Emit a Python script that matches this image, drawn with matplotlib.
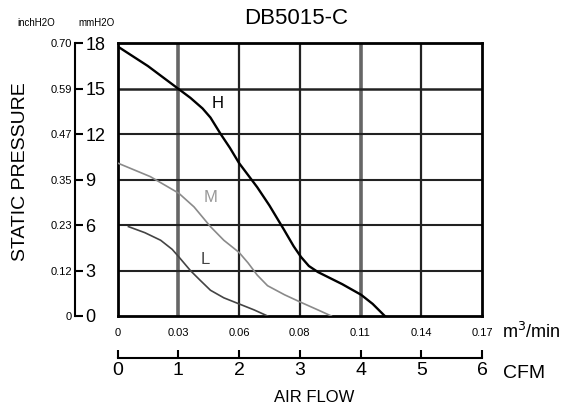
import matplotlib.pyplot as plt

# Curve data (CFM, mmH2O)
h_cfm = [0, 0.5, 1.0, 1.2, 1.4, 1.53, 1.7, 1.85, 2.0, 2.3, 2.5, 2.74, 2.9, 3.02, 3.15, 3.3, 3.7, 4.01, 4.2, 4.4]
h_mm = [17.8, 16.5, 15.0, 14.4, 13.7, 13.1, 12.0, 11.1, 10.1, 8.5, 7.3, 5.7, 4.6, 3.9, 3.3, 2.9, 2.1, 1.4, 0.8, 0]
m_cfm = [0, 0.54, 1.01, 1.26, 1.53, 1.75, 2.0, 2.15, 2.3, 2.47, 2.75, 3.02, 3.3, 3.52]
m_mm = [10.1, 9.2, 8.1, 7.2, 5.9, 5.0, 4.2, 3.5, 2.7, 2.0, 1.4, 0.9, 0.4, 0]
l_cfm = [0.18, 0.45, 0.71, 0.9, 1.01, 1.2, 1.35, 1.53, 1.75, 2.0, 2.25, 2.47]
l_mm = [5.9, 5.5, 5.0, 4.4, 3.9, 3.0, 2.4, 1.7, 1.2, 0.8, 0.4, 0]

mm_ticks = [0, 3, 6, 9, 12, 15, 18]
inch_labels = ["0", "0.12", "0.23", "0.35", "0.47", "0.59", "0.70"]
cfm_ticks = [0, 1, 2, 3, 4, 5, 6]
m3_labels = ["0", "0.03", "0.06", "0.08", "0.11", "0.14", "0.17"]

plt.rcParams['font.family'] = ['Liberation Sans', 'DejaVu Sans']

fig = plt.figure(figsize=(5.8, 4.05), dpi=100)
W, H = 580.0, 405.0
left, right = 117.5 / W, 482 / W
top, bot = 1 - 43.3 / H, 1 - 316 / H

ax = fig.add_axes([left, bot, right - left, top - bot])
ax.set_xlim(0, 6)
ax.set_ylim(0, 18)
for x in cfm_ticks[1:-1]:
    if x in (1, 4):
        ax.axvline(x, color='#666666', lw=2.6, zorder=1)
    else:
        ax.axvline(x, color='#222222', lw=1.6, zorder=1)
for y in mm_ticks[1:-1]:
    ax.axhline(y, color='#222222', lw=1.8 if y == 15 else 1.5, zorder=1)
for s in ax.spines.values():
    s.set_linewidth(2)

ax.plot(h_cfm, h_mm, color='black', lw=1.7, zorder=3)
ax.plot(m_cfm, m_mm, color='#8a8a8a', lw=1.2, zorder=3)
ax.plot(l_cfm, l_mm, color='#444444', lw=1.2, zorder=3)
ax.text(1.64, 14.0, "H", fontsize=12, color='black', ha='center', va='center')
ax.text(1.53, 7.8, "M", fontsize=12, color='#999999', ha='center', va='center')
ax.text(1.45, 3.7, "L", fontsize=12, color='#444444', ha='center', va='center')

ax.set_yticks([])
ax.set_xticks(cfm_ticks)
ax.set_xticklabels(m3_labels, fontsize=8)
ax.tick_params(axis='x', length=0, pad=9)

# left pressure scale
axl = fig.add_axes([75 / W, bot, 0.0001, top - bot])
axl.set_ylim(0, 18)
axl.set_xticks([])
for k in ('top', 'bottom', 'right'):
    axl.spines[k].set_visible(False)
axl.spines['left'].set_linewidth(1.5)
axl.set_yticks(mm_ticks)
axl.set_yticklabels(inch_labels, fontsize=8)
axl.tick_params(axis='y', length=0, pad=2)
axr = axl.twinx()
axr.set_ylim(0, 18)
for k in ('top', 'bottom', 'left', 'right'):
    axr.spines[k].set_visible(False)
axr.set_yticks(mm_ticks)
axr.set_yticklabels([str(v) for v in mm_ticks], fontsize=13)
axr.tick_params(axis='y', length=6, width=1.5, direction='out', pad=1.5)

# bottom CFM scale
axb = fig.add_axes([left, 1 - 358 / H, right - left, 0.0001])
axb.set_xlim(0, 6)
axb.set_yticks([])
for k in ('top', 'left', 'right'):
    axb.spines[k].set_visible(False)
axb.spines['bottom'].set_linewidth(1.5)
axb.set_xticks(cfm_ticks)
axb.set_xticklabels([str(v) for v in cfm_ticks], fontsize=14)
axb.tick_params(axis='x', length=6, width=1.5, direction='in', pad=3)

fig.text(296 / W, 1 - 19 / H, "DB5015-C", fontsize=16, ha='center', va='center')
fig.text(502 / W, 1 - 332 / H, "m$^3$/min", fontsize=13, ha='left', va='center')
fig.text(503 / W, 1 - 373 / H, "CFM", fontsize=14, ha='left', va='center')
fig.text(314 / W, 1 - 397 / H, "AIR FLOW", fontsize=12, ha='center', va='center')
fig.text(21 / W, 1 - 172 / H, "STATIC PRESSURE", fontsize=14, rotation=90,
         ha='center', va='center')
fig.text(36 / W, 1 - 23 / H, "inchH2O", fontsize=7, ha='center', va='center')
fig.text(97 / W, 1 - 23 / H, "mmH2O", fontsize=7, ha='center', va='center')

fig.savefig("out.png", dpi=100)
